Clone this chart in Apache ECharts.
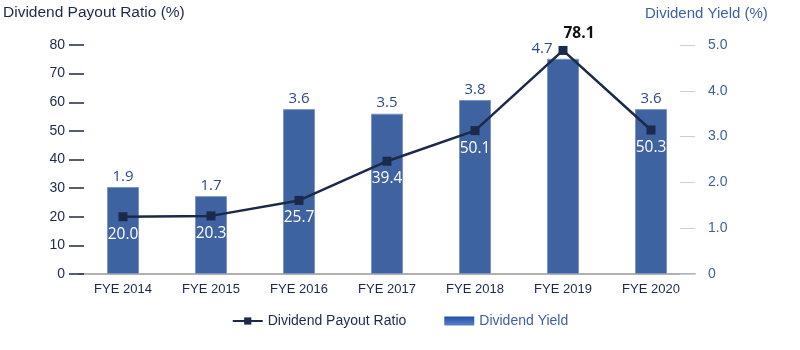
<!DOCTYPE html>
<html lang="en">
<head>
  <meta charset="UTF-8">
  <title>Dividend</title>
  <style>
    html, body { margin: 0; padding: 0; background: #fff; }
    #main { width: 800px; height: 350px; }
  </style>
</head>
<body>
  <div id="main"></div>
  <script src="https://cdn.jsdelivr.net/npm/echarts@6/dist/echarts.min.js"></script>
  <script>
    // data
    const years = ['FYE 2014', 'FYE 2015', 'FYE 2016', 'FYE 2017', 'FYE 2018', 'FYE 2019', 'FYE 2020'];
    const payoutRatio = [20.0, 20.3, 25.7, 39.4, 50.1, 78.1, 50.3];
    const dividendYield = [1.9, 1.7, 3.6, 3.5, 3.8, 4.7, 3.6];

    const navy = '#1b2a4a';
    const blue = '#3d5fa3';
    const font = 'Liberation Sans';

    const chart = echarts.init(document.getElementById('main'));

    chart.setOption({
      animation: false,
      textStyle: { fontFamily: font },
      grid: { left: 76, right: 105, top: 45, bottom: 76 },
      legend: {
        bottom: 17,
        left: 'center',
        itemGap: 38,
        itemWidth: 30,
        itemHeight: 9,
        textStyle: { fontSize: 14, fontFamily: font },
        data: [
          { name: 'Dividend Payout Ratio', textStyle: { color: navy } },
          {
            name: 'Dividend Yield', icon: 'rect',
            textStyle: { color: blue },
            itemStyle: {
              borderWidth: 0,
              color: new echarts.graphic.LinearGradient(0, 0, 0, 1, [
                { offset: 0, color: '#2450a8' },
                { offset: 1, color: '#5a7fc4' }
              ])
            }
          }
        ]
      },
      xAxis: {
        type: 'category',
        data: years,
        axisLine: { lineStyle: { color: '#999', width: 1.5 } },
        axisTick: { show: false },
        axisLabel: { color: navy, fontSize: 13, margin: 9 }
      },
      yAxis: [{
        type: 'value',
        min: 0, max: 80, interval: 10,
        offset: 10,
        name: 'Dividend Payout Ratio (%)',
        nameLocation: 'end',
        nameGap: 24,
        nameTextStyle: { color: navy, fontSize: 15.5, align: 'left', padding: [0, 0, 0, -66] },
        splitLine: { show: false },
        axisLine: { show: false },
        axisTick: { show: true, inside: true, length: 15, lineStyle: { color: navy, width: 1.5 } },
        axisLabel: { color: navy, fontSize: 14, margin: 4 }
      }, {
        type: 'value',
        min: 0, max: 5, interval: 1,
        name: 'Dividend Yield (%)',
        nameLocation: 'end',
        nameGap: 24,
        nameTextStyle: { color: blue, fontSize: 15, align: 'left', padding: [0, 0, 0, -50] },
        splitLine: { show: false },
        axisLine: { show: false },
        axisTick: { show: true, inside: true, length: 15, lineStyle: { color: '#c3d0ea', width: 1 } },
        axisLabel: {
          color: blue, fontSize: 14, margin: 13,
          formatter: v => v === 0 ? '0' : v.toFixed(1)
        }
      }],
      series: [{
        name: 'Dividend Yield',
        type: 'bar',
        yAxisIndex: 1,
        data: dividendYield.map((v, i) => i === 5 ? {
          value: v,
          label: { offset: [-21, 0] }
        } : v),
        barWidth: 32,
        itemStyle: {
          color: '#3f62a1',
          borderColor: '#7d95c6',
          borderWidth: 1
        },
        label: {
          show: true,
          position: 'top',
          distance: 3,
          color: '#2b4a8a',
          fontSize: 15,
          fontFamily: 'Open Sans',
          formatter: p => p.value.toFixed(1)
        },
        z: 1
      }, {
        name: 'Dividend Payout Ratio',
        type: 'line',
        yAxisIndex: 0,
        data: payoutRatio.map((v, i) => i === 5 ? {
          value: v,
          label: { position: 'top', offset: [16, 1], color: '#111', fontWeight: 'bold' }
        } : v),
        symbol: 'rect',
        symbolSize: 9,
        lineStyle: { color: navy, width: 2.5 },
        itemStyle: { color: navy },
        label: {
          show: true,
          position: 'bottom',
          distance: 5,
          color: '#fff',
          fontSize: 15.5,
          fontFamily: 'Open Sans',
          formatter: p => p.value.toFixed(1)
        },
        z: 3
      }]
    });
  </script>
</body>
</html>
